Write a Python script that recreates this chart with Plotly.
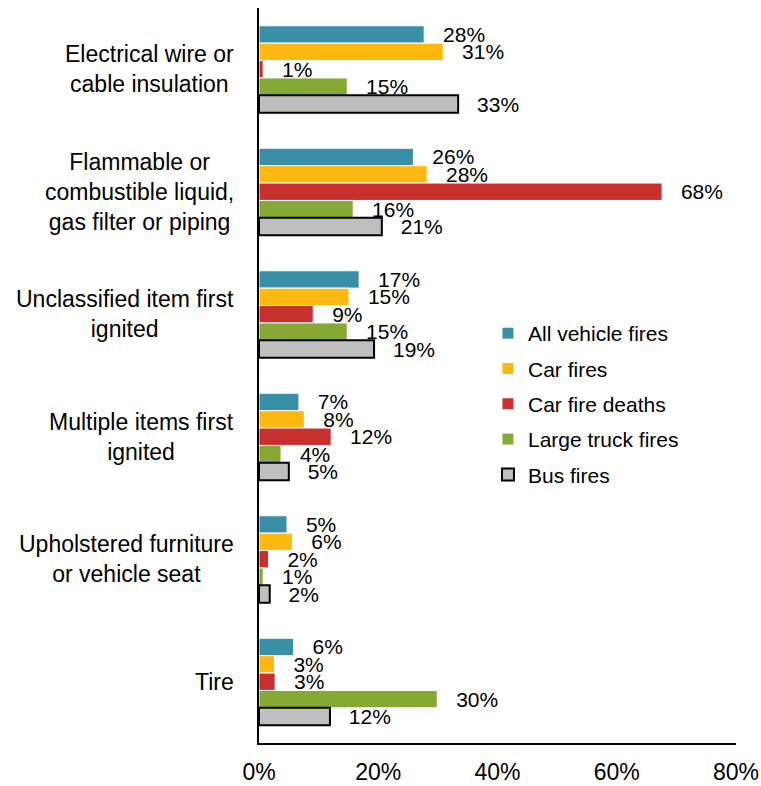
import plotly.graph_objects as go

# Categories (top to bottom) and series values in percent
categories = [
    "Electrical wire or<br>cable insulation",
    "Flammable or<br>combustible liquid,<br>gas filter or piping",
    "Unclassified item first<br>ignited",
    "Multiple items first<br>ignited",
    "Upholstered furniture<br>or vehicle seat",
    "Tire",
]
all_vehicle = [27.7, 25.9, 16.8, 6.7, 4.7, 5.8]
car_fires = [30.9, 28.2, 15.1, 7.6, 5.6, 2.6]
car_deaths = [0.7, 67.6, 9.1, 12.1, 1.6, 2.7]
large_truck = [14.8, 15.8, 14.8, 3.7, 0.7, 29.9]
bus_fires = [33.4, 20.6, 19.3, 5.0, 1.8, 11.9]

series = [
    ("All vehicle fires", all_vehicle, "#3A8FA8", "white", 1),
    ("Car fires", car_fires, "#FFB80F", "white", 1),
    ("Car fire deaths", car_deaths, "#C8302E", "white", 1),
    ("Large truck fires", large_truck, "#85A934", "white", 1),
    ("Bus fires", bus_fires, "#BFBFBF", "black", 2),
]

x_ticks = [0, 20, 40, 60, 80]

FONT = "Liberation Sans, Arial, sans-serif"
pad = "\u00a0\u00a0\u2009"

fig = go.Figure()
for name, vals, color, line_color, line_w in series:
    fig.add_trace(
        go.Bar(
            y=categories,
            x=vals,
            name=name,
            orientation="h",
            legendgroup=name,
            marker=dict(color=color, line=dict(color=line_color, width=line_w)),
            text=[pad + f"{v:.0f}%" for v in vals],
            textposition="outside",
            constraintext="none",
            cliponaxis=False,
            textfont=dict(family=FONT, size=21, color="black"),
        )
    )

# category labels, lines centred like the original
for cat in categories:
    fig.add_annotation(
        x=0, xref="paper", y=cat, yref="y",
        text=cat, showarrow=False,
        xanchor="right", align="center", xshift=-23,
        font=dict(family=FONT, size=23, color="black"),
    )

fig.update_layout(
    width=761,
    height=786,
    margin=dict(l=259, r=25, t=8, b=43),
    barmode="group",
    bargap=0.29,
    bargroupgap=0,
    plot_bgcolor="white",
    paper_bgcolor="white",
    font=dict(family=FONT, size=22, color="black"),
    legend=dict(
        x=0.48, y=0.585, xanchor="left", yanchor="top",
        font=dict(family=FONT, size=21),
        tracegroupgap=5,
        bgcolor="rgba(0,0,0,0)",
    ),
    xaxis=dict(
        range=[0, 80],
        tickvals=x_ticks,
        ticktext=[f"{t}%" for t in x_ticks],
        showgrid=False,
        zeroline=False,
        showline=True,
        linecolor="black",
        linewidth=2,
        ticks="",
        automargin=False,
        ticklabelstandoff=7,
        tickfont=dict(family=FONT, size=23),
    ),
    yaxis=dict(
        categoryorder="array",
        categoryarray=categories,
        autorange="reversed",
        automargin=False,
        showticklabels=False,
        showgrid=False,
        zeroline=False,
        showline=True,
        linecolor="black",
        linewidth=2,
        ticks="",
    ),
)

# drop the default page margin so the figure fills the window exactly
fig.write_html(
    "out.html",
    config={"displayModeBar": False},
    post_script="document.body.style.margin='0';document.body.style.overflow='hidden';",
)
